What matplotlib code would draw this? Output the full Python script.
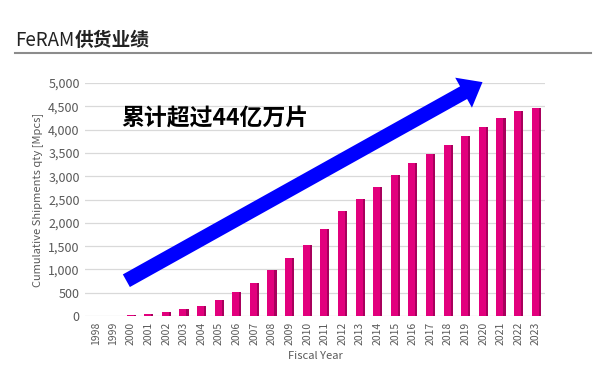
import numpy as np
import matplotlib.pyplot as plt
from matplotlib.lines import Line2D

plt.rcParams['font.family'] = ['Noto Sans CJK SC', 'DejaVu Sans']

years = [str(y) for y in range(1998, 2024)]
shipments = [0, 7, 29, 43, 79, 151, 209, 338, 511, 720, 985, 1245,
             1536, 1879, 2264, 2514, 2771, 3029, 3279, 3479, 3679, 3864,
             4064, 4257, 4393, 4471]

yticks = [0, 500, 1000, 1500, 2000, 2500, 3000, 3500, 4000, 4500, 5000]
title_a = 'FeRAM'
title_b = '供货业绩'
note = '累计超过44亿万片'

fig = plt.figure(figsize=(6, 3.71), dpi=100)
ax = fig.add_axes([0.142, 0.148, 0.766, 0.628])

x = np.arange(len(years))
# front face plus a darker side face for the pseudo-3D look
ax.bar(x - 0.04, shipments, width=0.42, color='#E2007D', zorder=3)
ax.bar(x + 0.21, shipments, width=0.12, color='#A8005C', zorder=3)

ax.set_xlim(-0.6, 25.5)
ax.set_ylim(0, 5000)
ax.set_yticks(yticks)
ax.set_yticklabels(['{:,}'.format(v) for v in yticks], fontsize=9, color='#595959')
ax.set_xticks(x)
ax.set_xticklabels(years, rotation=90, fontsize=7.5, color='#595959')
ax.tick_params(length=0, pad=4)
ax.grid(axis='y', color='#D9D9D9', lw=0.9, zorder=0)
for s in ax.spines.values():
    s.set_visible(False)
ax.set_xlabel('Fiscal Year', fontsize=8, color='#595959', labelpad=4)
ax.set_ylabel('Cumulative Shipments qty [Mpcs]', fontsize=8, color='#595959', labelpad=4)

# big blue arrow
ax.annotate('', xy=(22.1, 5050), xytext=(1.6, 730),
            arrowprops=dict(arrowstyle='simple,head_length=1.2,head_width=1.9,tail_width=0.8',
                            mutation_scale=13, color='#0000FF', lw=0),
            annotation_clip=False, zorder=5)

ax.text(6.75, 4250, note, fontsize=16.5, fontweight='bold', ha='center', va='center',
        color='black', zorder=6)

# title
t1 = fig.text(0.025, 1 - 40 / 371, title_a, fontsize=13.5, color='#222222', va='center')
fig.canvas.draw()
bb = t1.get_window_extent()
fig.text(bb.x1 / fig.bbox.width, 1 - 40 / 371, title_b, fontsize=13.5, fontweight='bold',
         color='#222222', va='center')
fig.add_artist(Line2D([0.025, 0.985], [1 - 53 / 371, 1 - 53 / 371], color='#8C8C8C', lw=1.5))

fig.savefig('out.png', dpi=100)
